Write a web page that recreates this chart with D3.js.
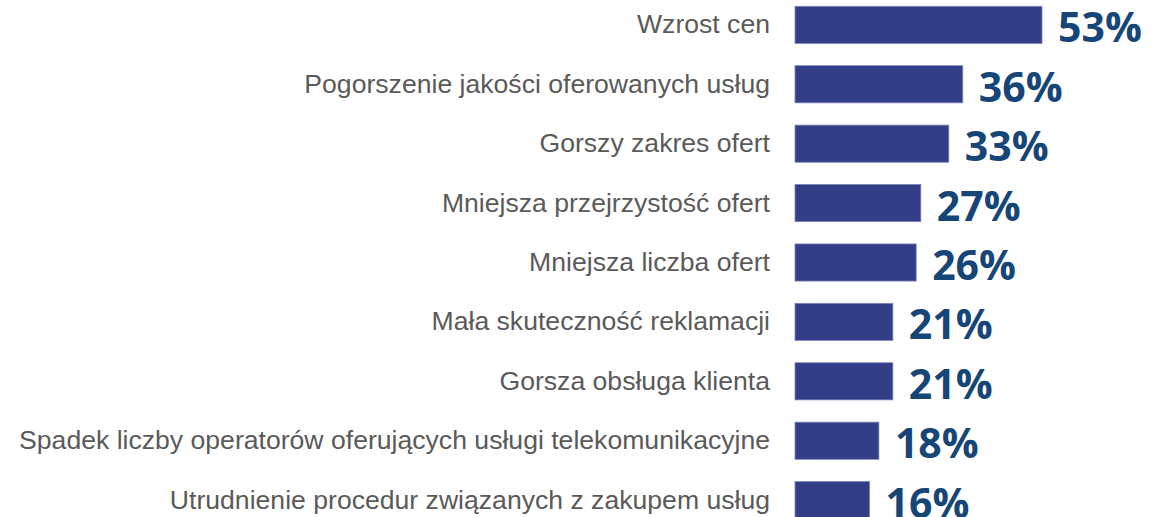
<!DOCTYPE html>
<html>
<head>
<meta charset="utf-8">
<script src="https://cdn.jsdelivr.net/npm/d3@7"></script>
<style>
  html, body { margin: 0; padding: 0; background: #ffffff; }
  svg { display: block; }
</style>
</head>
<body>
<svg id="chart" width="1163" height="517"></svg>
<script>
// Reasons cited, with share of respondents (%)
const categories = [
  "Wzrost cen",
  "Pogorszenie jakości oferowanych usług",
  "Gorszy zakres ofert",
  "Mniejsza przejrzystość ofert",
  "Mniejsza liczba ofert",
  "Mała skuteczność reklamacji",
  "Gorsza obsługa klienta",
  "Spadek liczby operatorów oferujących usługi telekomunikacyjne",
  "Utrudnienie procedur związanych z zakupem usług"
];
const values = [53, 36, 33, 27, 26, 21, 21, 18, 16];

const svg = d3.select("#chart");
const barLeft = 795;

const x = d3.scaleLinear().domain([0, 53]).range([barLeft, 1042]);
const y = d3.scaleBand()
  .domain(categories)
  .range([-5, 530])
  .paddingInner(0.375)
  .paddingOuter(0.19);

const rows = svg.selectAll("g.row")
  .data(categories.map((c, i) => ({ c, v: values[i] })))
  .join("g")
  .attr("class", "row");

rows.append("rect")
  .attr("x", x(0))
  .attr("y", d => y(d.c))
  .attr("width", d => x(d.v) - x(0))
  .attr("height", y.bandwidth())
  .attr("fill", "#323f86")
  .attr("stroke", "#7d84b8")
  .attr("stroke-width", 0.8);

rows.append("text")
  .attr("x", barLeft - 25)
  .attr("y", d => y(d.c) + y.bandwidth() / 2 + 8.5)
  .attr("text-anchor", "end")
  .attr("font-family", "'Liberation Sans', Arial, sans-serif")
  .attr("font-size", 26.6)
  .attr("fill", "#5a5a5a")
  .text(d => d.c);

rows.append("text")
  .attr("x", d => x(d.v) + 16)
  .attr("y", d => y(d.c) + y.bandwidth() / 2 + 17.5)
  .attr("font-family", "'Open Sans', sans-serif")
  .attr("font-weight", 700)
  .attr("font-size", 41)
  .attr("fill", "#164677")
  .text(d => d.v + "%");
</script>
</body>
</html>
